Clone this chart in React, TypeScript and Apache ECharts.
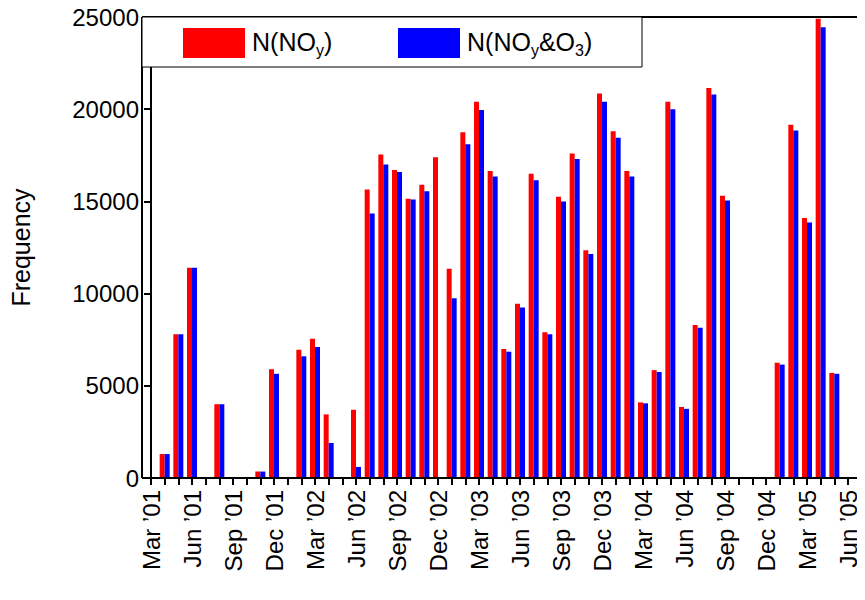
import { useEffect, useRef } from 'react'
import * as echarts from 'echarts'

// month index 0 = Mar 2001 ... 51 = Jun 2005
const monthNames = ['Jan', 'Feb', 'Mar', 'Apr', 'May', 'Jun', 'Jul', 'Aug', 'Sep', 'Oct', 'Nov', 'Dec']
const monthIdx = [1, 2, 3, 5, 8, 9, 11, 12, 13, 15, 16, 17, 18, 19, 20, 21, 22, 23, 24, 25, 26, 27, 28, 29, 30, 31, 32, 33, 34, 35, 36, 37, 38, 39, 40, 41, 42, 46, 47, 48, 49, 50]
const noy = [1300, 7800, 11400, 4000, 350, 5900, 6950, 7550, 3450, 3700, 15650, 17550, 16700, 15150, 15900, 17400, 11350, 18750, 20400, 16650, 7000, 9450, 16500, 7900, 15250, 17600, 12350, 20850, 18800, 16650, 4100, 5850, 20400, 3850, 8300, 21150, 15300, 6250, 19150, 14100, 24900, 5700]
const noyO3 = [1300, 7800, 11400, 4000, 350, 5650, 6600, 7100, 1900, 600, 14350, 17000, 16600, 15100, 15550, 0, 9750, 18100, 19950, 16350, 6850, 9250, 16150, 7800, 15000, 17300, 12150, 20400, 18450, 16350, 4050, 5750, 20000, 3750, 8150, 20800, 15050, 6150, 18850, 13850, 24450, 5650]
const yTicks = [0, 5000, 10000, 15000, 20000, 25000]

const monthLabel = (i: number) => {
  const m = (i + 2) % 12
  const y = 2001 + Math.floor((i + 2) / 12)
  return monthNames[m] + ' \u2019' + String(y).slice(2)
}

export default function App() {
  const ref = useRef<HTMLDivElement>(null)
  useEffect(() => {
    if (!ref.current) return
    const chart = echarts.init(ref.current, null, { renderer: 'svg' })
    const font = 'Liberation Sans, Arial, sans-serif'
    const line = (x1: number, y1: number, x2: number, y2: number) => ({
      type: 'line', z: 10, shape: { x1, y1, x2, y2 }, style: { stroke: '#000', lineWidth: 2 },
    })
    const rich = {
      n: { fontSize: 25, fontFamily: font, fill: '#000' },
      s: { fontSize: 16, fontFamily: font, fill: '#000', padding: [16, 0, 0, 0] },
    }
    chart.setOption({
      animation: false,
      grid: { left: 148, right: 17, top: 17, bottom: 122 },
      xAxis: {
        type: 'value',
        min: 0,
        max: 51,
        interval: 1,
        splitLine: { show: false },
        axisLine: { show: true, lineStyle: { color: '#000', width: 2 } },
        axisTick: { show: true, length: 7, lineStyle: { color: '#000', width: 2 } },
        axisLabel: {
          rotate: 90,
          fontSize: 24,
          fontFamily: font,
          color: '#000',
          margin: 12,
          formatter: (v: number) => (v % 3 === 0 ? monthLabel(v) : ''),
        },
      },
      yAxis: {
        type: 'value',
        min: yTicks[0],
        max: yTicks[yTicks.length - 1],
        interval: 5000,
        offset: 6,
        name: 'Frequency',
        nameLocation: 'middle',
        nameGap: 112,
        nameTextStyle: { fontSize: 25, fontFamily: font, color: '#000' },
        splitLine: { show: false },
        axisLine: { show: true, lineStyle: { color: '#000', width: 2 } },
        axisTick: { show: true, length: 7, lineStyle: { color: '#000', width: 2 } },
        axisLabel: { fontSize: 24, fontFamily: font, color: '#000', margin: 6, formatter: (v: number) => String(v) },
      },
      series: [
        {
          type: 'bar',
          barWidth: 5,
          barGap: '0%',
          itemStyle: { color: '#ff0000' },
          data: monthIdx.map((m, i) => [m, noy[i]]),
        },
        {
          type: 'bar',
          barWidth: 5,
          barGap: '0%',
          itemStyle: { color: '#0000ff' },
          data: monthIdx.map((m, i) => [m, noyO3[i]]),
        },
      ],
      graphic: [
        line(142, 17, 858, 17),
        line(858, 17, 858, 478),
        line(142, 17, 142, 478),
        line(142, 478, 858, 478),
        { type: 'rect', shape: { x: 142, y: 17, width: 500, height: 50 }, style: { fill: '#fff', stroke: '#000', lineWidth: 1 }, z: 11 },
        { type: 'rect', shape: { x: 183, y: 28, width: 62, height: 30 }, style: { fill: '#ff0000' }, z: 12 },
        { type: 'rect', shape: { x: 398, y: 28, width: 62, height: 30 }, style: { fill: '#0000ff' }, z: 12 },
        { type: 'text', x: 252, y: 26, z: 12, style: { text: '{n|N(NO}{s|y}{n|)}', rich } },
        { type: 'text', x: 467, y: 26, z: 12, style: { text: '{n|N(NO}{s|y}{n|&O}{s|3}{n|)}', rich } },
      ],
    })
    return () => chart.dispose()
  }, [])
  return <div ref={ref} style={{ width: 865, height: 600, margin: -8 }} />
}
